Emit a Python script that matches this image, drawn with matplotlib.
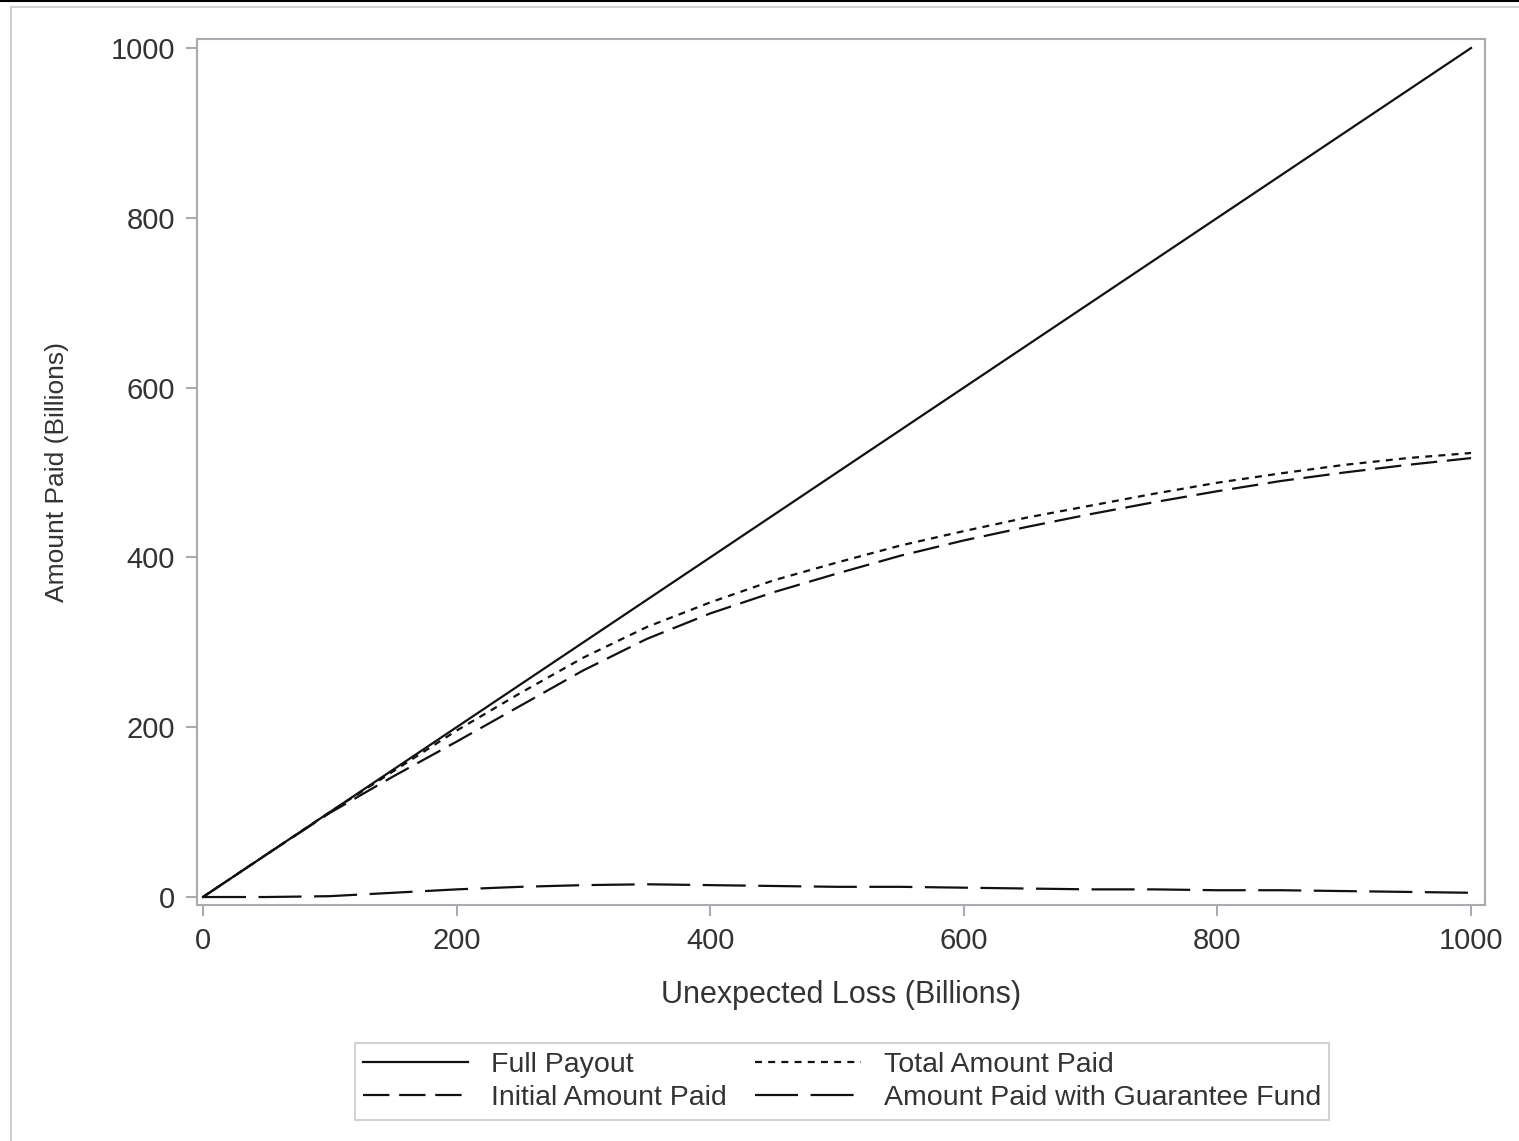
import matplotlib
matplotlib.use("Agg")
import matplotlib.pyplot as plt
from matplotlib.lines import Line2D

plt.rcParams["font.family"] = ["Liberation Sans", "DejaVu Sans"]
plt.rcParams["lines.scale_dashes"] = False

# Unexpected loss grid (billions)
loss = [0, 50, 100, 150, 200, 250, 300, 350, 400, 450, 500,
        550, 600, 650, 700, 750, 800, 850, 900, 950, 1000]
full_payout = list(loss)
total_paid = [0, 50, 100, 148, 196, 240, 282, 318, 347, 373, 394,
              414, 431, 447, 461, 475, 488, 499, 509, 517, 523]
initial_paid = [0, 50, 99, 142, 183, 225, 267, 304, 334, 359, 381,
                402, 420, 436, 451, 465, 478, 490, 500, 509, 517]
guarantee_paid = [0, 0, 1, 5, 9, 12, 14, 15, 14, 13, 12,
                  12, 11, 10, 9, 9, 8, 8, 7, 6, 5]

x_ticks = [0, 200, 400, 600, 800, 1000]
y_ticks = [0, 200, 400, 600, 800, 1000]

W, H = 1519, 1141
fig = plt.figure(figsize=(W / 100, H / 100), dpi=100)

# outer frame
frame_col = "#d0d0d0"
fig.add_artist(Line2D([11 / W, 11 / W], [0, 1 - 7 / H], transform=fig.transFigure,
                      color=frame_col, lw=1.5))
fig.add_artist(Line2D([11 / W, 1], [1 - 7 / H, 1 - 7 / H], transform=fig.transFigure,
                      color=frame_col, lw=1.5))
fig.add_artist(Line2D([0, 1], [1 - 0.8 / H, 1 - 0.8 / H], transform=fig.transFigure,
                      color="black", lw=1.5))

ax = fig.add_axes([197 / W, 1 - 905 / H, (1485 - 197) / W, (905 - 39) / H])

lc = "#111111"
lw = 1.6
h_full, = ax.plot(loss, full_payout, color=lc, lw=lw, linestyle="-",
                  label="Full Payout")
h_total, = ax.plot(loss, total_paid, color=lc, lw=lw,
                   linestyle=(0, (5, 4.5)), label="Total Amount Paid")
h_init, = ax.plot(loss, initial_paid, color=lc, lw=lw,
                  linestyle=(0, (19, 7)), label="Initial Amount Paid")
h_guar, = ax.plot(loss, guarantee_paid, color=lc, lw=lw,
                  linestyle=(0, (31, 9)), label="Amount Paid with Guarantee Fund")

ax.set_xlim(-4.7, 1011)
ax.set_ylim(-9.4, 1010.6)
ax.set_xticks(x_ticks)
ax.set_yticks(y_ticks)

spine_col = "#a8acb0"
for s in ax.spines.values():
    s.set_color(spine_col)
    s.set_linewidth(1.5)
ax.tick_params(axis="both", direction="out", length=8, width=1.5,
               color=spine_col, labelsize=21, labelcolor="#333333", pad=8)

ax.set_xlabel("Unexpected Loss (Billions)", fontsize=22, color="#333333", labelpad=18)
ax.set_ylabel("Amount Paid (Billions)", fontsize=19, color="#333333", labelpad=30)

leg = fig.legend(handles=[h_full, h_init, h_total, h_guar], ncol=2,
                 loc="center", bbox_to_anchor=(842 / W, 1 - 1081.5 / H),
                 fontsize=20.5, frameon=True, fancybox=False, handlelength=3.7,
                 handletextpad=0.8, columnspacing=1.0, labelspacing=0.25,
                 borderpad=0.3, labelcolor="#333333")
leg.get_frame().set_edgecolor("#c8c8c8")
leg.get_frame().set_linewidth(1.5)

fig.savefig("out.png", dpi=100)
